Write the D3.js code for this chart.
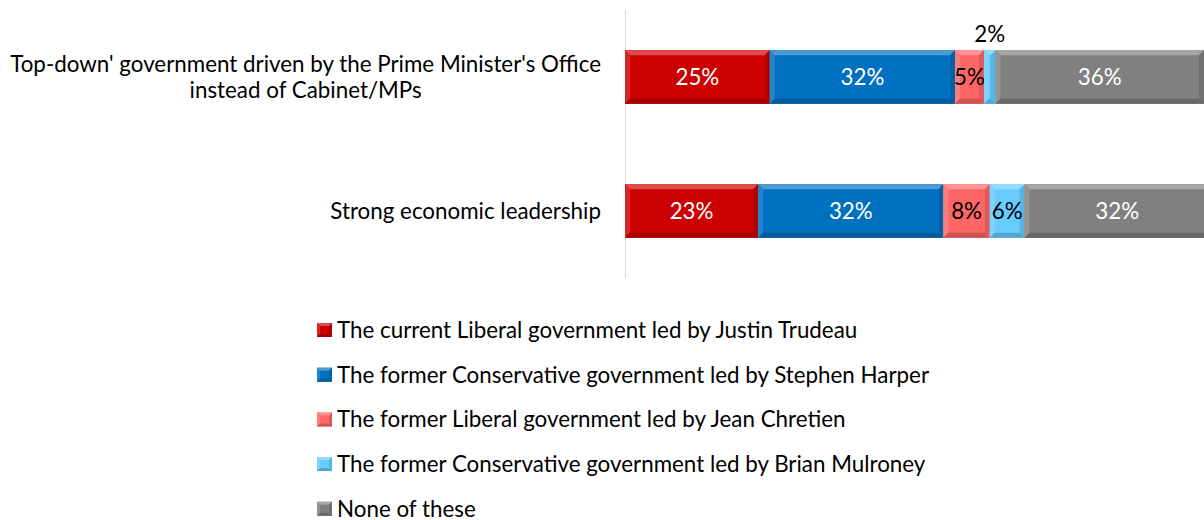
<!DOCTYPE html>
<html><head><meta charset="utf-8">
<script src="https://cdn.jsdelivr.net/npm/d3@7"></script>
<style>body{margin:0;background:#fff;}svg{display:block;}</style>
</head><body>
<svg id="c" width="1204" height="520"></svg>
<script>
const categories = ["Top-down' government driven by the Prime Minister's Office instead of Cabinet/MPs", "Strong economic leadership"];
const seriesNames = [
  "The current Liberal government led by Justin Trudeau",
  "The former Conservative government led by Stephen Harper",
  "The former Liberal government led by Jean Chretien",
  "The former Conservative government led by Brian Mulroney",
  "None of these"
];
const trudeau = [25, 23];
const harper = [32, 32];
const chretien = [5, 8];
const mulroney = [2, 6];
const noneOf = [36, 32];
const colors = ["#CC0000", "#0070C0", "#FF6666", "#66CCFF", "#808080"];
const labelColors = ["#fff", "#fff", "#000", "#000", "#fff"];
const catLines = [["Top-down' government driven by the Prime Minister's Office", "instead of Cabinet/MPs"], ["Strong economic leadership"]];

const values = [trudeau, harper, chretien, mulroney, noneOf];
const svg = d3.select("#c");
const FONT = "Lato, 'Open Sans', sans-serif";

const probe = svg.append("text").attr("font-family", FONT).attr("font-size", 20).text(catLines[0][0]);
const w = probe.node().getComputedTextLength();
probe.remove();
const fs = 20 * 591 / w;

const x = d3.scaleLinear().domain([0, 100]).range([625, 1204]);
const y = d3.scaleBand().domain(categories).range([10, 278]).paddingInner(0.6).paddingOuter(0.3);

const rows = categories.map((c, i) => {
  let acc = 0;
  return values.map((v, s) => { const r = {cat: c, s, x0: acc, x1: acc + v[i], v: v[i]}; acc += v[i]; return r; });
});

function bevel(g, x0, y0, w, h, col, b) {
  const c = d3.color(col);
  const light = d3.interpolateRgb(col, "#fff")(0.3);
  const lighter = d3.interpolateRgb(col, "#fff")(0.15);
  const dark = c.darker(0.6);
  const darker = c.darker(0.35);
  b = Math.min(b, w / 2, h / 2);
  g.append("rect").attr("x", x0).attr("y", y0).attr("width", w).attr("height", h).attr("fill", col);
  g.append("polygon").attr("points", [[x0, y0], [x0 + w, y0], [x0 + w - b, y0 + b], [x0 + b, y0 + b]].join(" ")).attr("fill", light);
  g.append("polygon").attr("points", [[x0, y0], [x0 + b, y0 + b], [x0 + b, y0 + h - b], [x0, y0 + h]].join(" ")).attr("fill", lighter);
  g.append("polygon").attr("points", [[x0, y0 + h], [x0 + b, y0 + h - b], [x0 + w - b, y0 + h - b], [x0 + w, y0 + h]].join(" ")).attr("fill", dark);
  g.append("polygon").attr("points", [[x0 + w, y0], [x0 + w, y0 + h], [x0 + w - b, y0 + h - b], [x0 + w - b, y0 + b]].join(" ")).attr("fill", darker);
}

svg.append("line").attr("x1", 625.5).attr("x2", 625.5).attr("y1", 10).attr("y2", 278).attr("stroke", "#d9d9d9").attr("stroke-width", 1);

rows.forEach(r => {
  r.forEach(d => {
    const g = svg.append("g");
    bevel(g, x(d.x0), y(d.cat), x(d.x1) - x(d.x0), y.bandwidth(), colors[d.s], 5);
    const cx = (x(d.x0) + x(d.x1)) / 2;
    const small = d.v < 3;
    svg.append("text")
      .attr("x", cx)
      .attr("y", small ? y(d.cat) - 16 : y(d.cat) + y.bandwidth() / 2)
      .attr("dy", "0.35em")
      .attr("text-anchor", "middle")
      .attr("font-family", FONT).attr("font-size", fs)
      .attr("fill", small ? "#000" : labelColors[d.s])
      .text(d.v + "%");
  });
});

categories.forEach((c, i) => {
  const lines = catLines[i];
  const cy = y(c) + y.bandwidth() / 2;
  const lh = 26;
  const g = svg.append("g");
  const texts = lines.map((ln, k) => g.append("text")
      .attr("y", cy + (k - (lines.length - 1) / 2) * lh)
      .attr("dy", "0.35em").attr("text-anchor", "middle")
      .attr("font-family", FONT).attr("font-size", fs).attr("fill", "#000")
      .text(ln));
  const maxW = d3.max(texts, t => t.node().getComputedTextLength());
  texts.forEach(t => t.attr("x", 601 - maxW / 2));
});

const lg = svg.append("g");
seriesNames.forEach((n, i) => {
  const cy = 330 + i * 44.7;
  bevel(lg, 317, cy - 7, 15, 14, colors[i], 3);
  lg.append("text").attr("x", 337).attr("y", cy).attr("dy", "0.35em")
    .attr("font-family", FONT).attr("font-size", fs).attr("fill", "#000").text(n);
});
</script>
</body></html>
